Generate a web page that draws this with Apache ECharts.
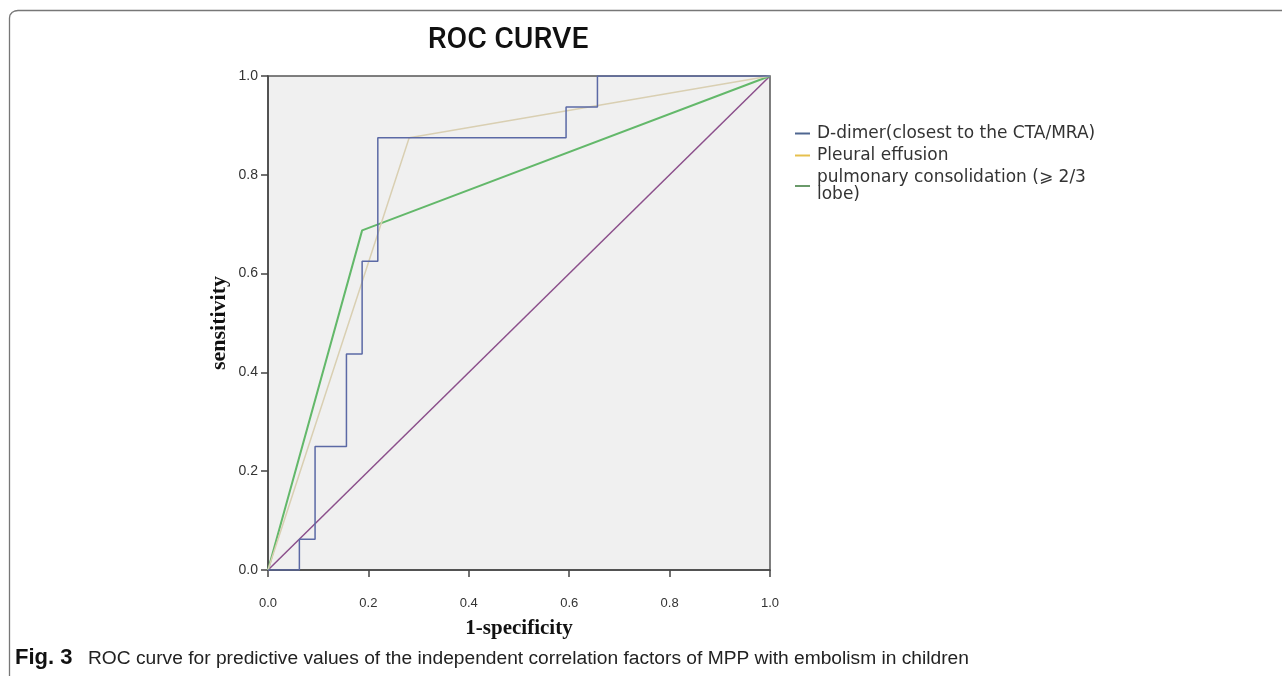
<!DOCTYPE html>
<html>
<head>
<meta charset="utf-8">
<script src="https://cdn.jsdelivr.net/npm/echarts@6/dist/echarts.min.js"></script>
<style>
html,body{margin:0;padding:0;background:#fff;}
#chart{width:1282px;height:676px;}
</style>
</head>
<body>
<div id="chart"></div>
<script>
// ---- data ----
const titleText = 'ROC CURVE';
const xTicks = [0, 0.2, 0.4, 0.6, 0.8, 1.0];
const yTicks = [0, 0.2, 0.4, 0.6, 0.8, 1.0];
const seriesNames = ['D-dimer(closest to the CTA/MRA)', 'Pleural effusion', 'pulmonary consolidation (\u2a7e 2/3\nlobe)'];
// ROC points: [1-specificity, sensitivity]
const dDimer = [[0,0],[0.0625,0],[0.0625,0.0625],[0.09375,0.0625],[0.09375,0.25],[0.15625,0.25],[0.15625,0.4375],[0.1875,0.4375],[0.1875,0.625],[0.21875,0.625],[0.21875,0.875],[0.59375,0.875],[0.59375,0.9375],[0.65625,0.9375],[0.65625,1],[1,1]];
const pleural = [[0,0],[0.28125,0.875],[1,1]];
const consolidation = [[0,0],[0.1875,0.6875],[1,1]];
const reference = [[0,0],[1,1]];
const captionBold = 'Fig. 3';
const captionText = 'ROC curve for predictive values of the independent correlation factors of MPP with embolism in children';

const chart = echarts.init(document.getElementById('chart'), null, {renderer:'canvas'});
const lineColors = ['#5b69a5', '#d9cfb2', '#63b86a', '#8b4f8b'];
const legendColors = ['#4f6690', '#e6c04e', '#6a9a6a'];

chart.setOption({
  animation:false,
  backgroundColor:'#ffffff',
  title:{
    text:titleText, left:503, top:20, textAlign:'center',
    textStyle:{fontFamily:'Roboto', fontWeight:500, fontSize:30, color:'#111'}
  },
  grid:{left:268, right:512, top:76, bottom:106, show:true, backgroundColor:'#f0f0f0', borderColor:'#555', borderWidth:1.5},
  legend:{
    orient:'vertical', left:795, top:125, padding:0, itemGap:5, itemWidth:15, itemHeight:2, icon:'rect',
    textStyle:{fontFamily:'DejaVu Sans', fontSize:17, color:'#333', lineHeight:17, padding:[0,0,0,2]},
    data:seriesNames.map((n,i)=>({name:n, itemStyle:{color:legendColors[i]}}))
  },
  xAxis:{
    type:'value', min:0, max:1, interval:0.2,
    name:'1-specificity', nameLocation:'middle', nameGap:48,
    nameTextStyle:{fontFamily:'Liberation Serif', fontWeight:'bold', fontSize:21, color:'#111'},
    axisLine:{show:true, lineStyle:{color:'#444', width:1.5}},
    axisTick:{show:true, length:7, lineStyle:{color:'#444', width:1.5}},
    axisLabel:{fontFamily:'Liberation Sans', fontSize:13, color:'#333', margin:27, formatter:v=>v.toFixed(1)},
    splitLine:{show:false}
  },
  yAxis:{
    type:'value', min:0, max:1, interval:0.2,
    name:'sensitivity', nameLocation:'middle', nameGap:38,
    nameTextStyle:{fontFamily:'Liberation Serif', fontWeight:'bold', fontSize:22, color:'#111'},
    axisLine:{show:true, lineStyle:{color:'#444', width:1.5}},
    axisTick:{show:true, length:7, lineStyle:{color:'#444', width:1.5}},
    axisLabel:{fontFamily:'Liberation Sans', fontSize:14, color:'#333', margin:10, formatter:v=>v.toFixed(1)},
    splitLine:{show:false}
  },
  series:[
    {name:'ref', type:'line', data:reference, showSymbol:false, lineStyle:{color:lineColors[3], width:1.5}, itemStyle:{color:lineColors[3]}},
    {name:seriesNames[2], type:'line', data:consolidation, showSymbol:false, lineStyle:{color:lineColors[2], width:2}, itemStyle:{color:lineColors[2]}},
    {name:seriesNames[1], type:'line', data:pleural, showSymbol:false, lineStyle:{color:lineColors[1], width:1.5}, itemStyle:{color:lineColors[1]}},
    {name:seriesNames[0], type:'line', data:dDimer, showSymbol:false, lineStyle:{color:lineColors[0], width:1.5}, itemStyle:{color:lineColors[0]}}
  ],
  graphic:[
    {type:'polyline', shape:{points:[[9.5,676],[9.5,18],[10,15],[12,12.5],[15,11],[18,10.5],[1282,10.5]]}, style:{stroke:'#777', lineWidth:1.3, fill:null}},
    {type:'text', left:15, top:647, style:{text:captionBold, fontFamily:'Liberation Sans', fontWeight:'bold', fontSize:22, fill:'#111'}},
    {type:'text', left:88, top:649, style:{text:captionText, fontFamily:'Liberation Sans', fontSize:19.2, fill:'#222'}}
  ]
});
</script>
</body>
</html>
